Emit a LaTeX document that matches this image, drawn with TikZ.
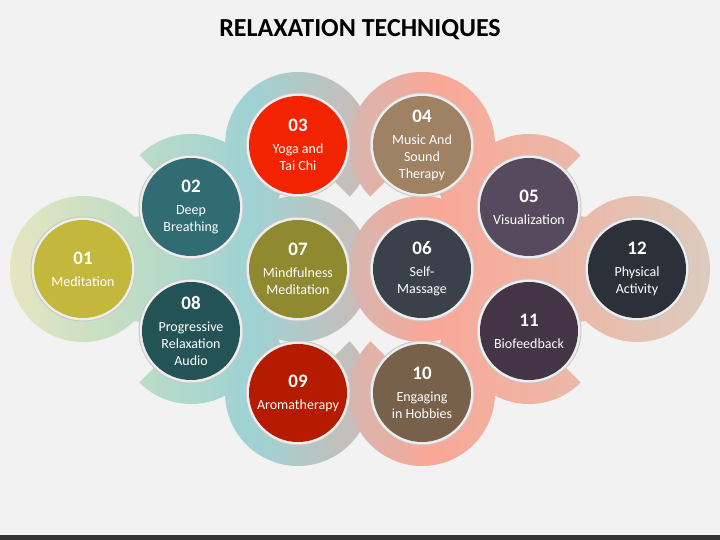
\documentclass[tikz,border=0pt]{standalone}
\usepackage{fontspec}
\setmainfont{Carlito}
\definecolor{bg}{HTML}{F2F2F2}
\definecolor{bar}{HTML}{333333}
\definecolor{lbA}{HTML}{E6E6C0}
\definecolor{lbB}{HTML}{BCDCC6}
\definecolor{lbC}{HTML}{9ED2D4}
\definecolor{lbD}{HTML}{CDBAB6}
\definecolor{rbA}{HTML}{D6B6B0}
\definecolor{rbB}{HTML}{FAA797}
\definecolor{rbC}{HTML}{EDB6A6}
\definecolor{rbD}{HTML}{DCCCBF}
\definecolor{t01}{HTML}{C3B73C}
\definecolor{t02}{HTML}{306C71}
\definecolor{t03}{HTML}{F22300}
\definecolor{t04}{HTML}{9F8264}
\definecolor{t05}{HTML}{574A5F}
\definecolor{t06}{HTML}{3B414B}
\definecolor{t07}{HTML}{8F8A30}
\definecolor{t08}{HTML}{245355}
\definecolor{t09}{HTML}{B51B00}
\definecolor{t10}{HTML}{78614A}
\definecolor{t11}{HTML}{443546}
\definecolor{t12}{HTML}{2C3038}
\tikzstyle{rim}=[fill=black!22]
\tikzstyle{face}=[fill=white!93!black]
\tikzstyle{techtext}=[text=white,align=center,font=\fontsize{14}{17}\selectfont]
\tikzstyle{titletext}=[font=\fontsize{26}{30}\selectfont\bfseries]
\newcommand{\technum}[1]{{\fontsize{19}{19}\selectfont\bfseries #1}}
\newcommand{\technique}[2]{%
  \fill[rim] (c#1) circle (52.5);
  \fill[face] (c#1) circle (51.5);
  \fill[t#1] (c#1) circle (49);
  \node[techtext] (t#1) at (c#1) {\technum{#1}\\[5pt]#2};
}
\begin{document}
\begin{tikzpicture}[x=1pt,y=1pt]
  \fill[bg] (0,0) rectangle (720,540);
  \useasboundingbox (0,0) rectangle (720,540);
  \fill[bar] (0,0) rectangle (720,5);
  \node[titletext] (title) at (360,510) {RELAXATION TECHNIQUES};
  % centres
  \coordinate (c01) at (83,271);
  \coordinate (c02) at (191,333);
  \coordinate (c03) at (298,395);
  \coordinate (c07) at (298,271);
  \coordinate (c08) at (191,209);
  \coordinate (c09) at (298,147);
  \coordinate (c04) at (422,395);
  \coordinate (c05) at (529,333);
  \coordinate (c06) at (422,271);
  \coordinate (c12) at (637,271);
  \coordinate (c11) at (529,209);
  \coordinate (c10) at (422,147);
  % left band
  \begin{scope}
    \clip foreach \ci/\sa/\ea in {01/0/360,02/-170/135,03/-45/250,07/0/360,08/-135/170,09/110/405}
      {(c\ci) -- ++(\sa:73) arc[start angle=\sa,end angle=\ea,radius=73] -- cycle};
    \shade[left color=lbA,right color=lbB] (8,60) rectangle (140.5,480);
    \shade[left color=lbB,right color=lbC] (140,60) rectangle (250.5,480);
    \shade[left color=lbC,right color=lbD] (250,60) rectangle (372,480);
  \end{scope}
  % right band
  \begin{scope}
    \clip foreach \ci/\sa/\ea in {04/-70/225,05/45/350,06/0/360,10/-225/70,11/10/315,12/0/360}
      {(c\ci) -- ++(\sa:73) arc[start angle=\sa,end angle=\ea,radius=73] -- cycle};
    \shade[left color=rbA,right color=rbB] (348,60) rectangle (430.5,480);
    \shade[left color=rbB,right color=rbC] (430,60) rectangle (560.5,480);
    \shade[left color=rbC,right color=rbD] (560,60) rectangle (712,480);
  \end{scope}
  % circles
  \technique{01}{Meditation}
  \technique{02}{Deep\\Breathing}
  \technique{03}{Yoga and\\Tai Chi}
  \technique{04}{Music And\\Sound\\Therapy}
  \technique{05}{Visualization}
  \technique{06}{Self-\\Massage}
  \technique{07}{Mindfulness\\Meditation}
  \technique{08}{Progressive\\Relaxation\\Audio}
  \technique{09}{Aromatherapy}
  \technique{10}{Engaging\\in Hobbies}
  \technique{11}{Biofeedback}
  \technique{12}{Physical\\Activity}
\end{tikzpicture}
\end{document}
